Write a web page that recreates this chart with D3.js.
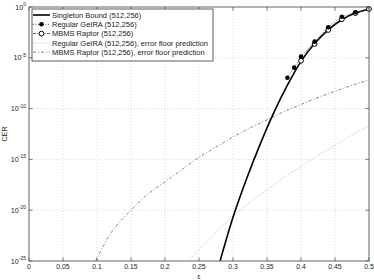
<!DOCTYPE html>
<html><head><meta charset="utf-8">
<script src="https://cdn.jsdelivr.net/npm/d3@7"></script>
<style>body{margin:0;background:#fff}svg{display:block}</style>
</head><body><svg id="c" width="374" height="280"></svg>
<script>
const xTicks = [0,0.05,0.1,0.15,0.2,0.25,0.3,0.35,0.4,0.45,0.5];
const xTickLabels = ["0","0.05","0.1","0.15","0.2","0.25","0.3","0.35","0.4","0.45","0.5"];
const yTicks = [1e0,1e-5,1e-10,1e-15,1e-20,1e-25];
const yTickExps = ["0","-5","-10","-15","-20","-25"];

const singletonEps = [0.281,0.30,0.32,0.34,0.36,0.38,0.40,0.42,0.44,0.46,0.48,0.50];
const singletonCER = [1e-25,2e-21,1.26e-17,3.2e-14,4e-11,2e-8,4.5e-6,2.5e-4,5.6e-3,5.6e-2,0.25,0.6];

const geiraEps = [0.38,0.39,0.40,0.42,0.44,0.46,0.48];
const geiraCER = [1.1e-7,1.07e-6,1.3e-5,3.9e-4,1e-2,0.11,0.3];

const raptorEps = [0.40,0.42,0.44,0.46,0.48,0.50];
const raptorCER = [5.1e-6,2.3e-4,5.5e-3,6.2e-2,0.25,0.63];

const geiraFloorEps = [0.234,0.25,0.275,0.30,0.325,0.35,0.375,0.40,0.425,0.45,0.475,0.50];
const geiraFloorCER = [1e-25,1.26e-24,6.3e-23,2.5e-21,6.3e-20,1e-18,1.6e-17,2e-16,2.5e-15,2.5e-14,2.5e-13,2e-12];

const raptorFloorEps = [0.098,0.12,0.15,0.175,0.20,0.225,0.25,0.275,0.30,0.325,0.35,0.375,0.40,0.425,0.45,0.475,0.50];
const raptorFloorCER = [1e-25,5e-23,1e-20,4e-19,6.3e-18,1e-16,1.6e-15,1.6e-14,1.6e-13,1.26e-12,7.9e-12,5e-11,2.5e-10,1.26e-9,5e-9,2e-8,6.3e-8];

const legendLabels = ["Singleton Bound (512,256)","Regular GeIRA (512,256)","MBMS Raptor (512,256)","Regular GeIRA (512,256), error floor prediction","MBMS Raptor (512,256), error floor prediction"];

const L=29,R=369,T=7,B=261;
const svg=d3.select("#c");
const font="Liberation Sans, Arial, sans-serif";
const x=d3.scaleLinear().domain([0,0.5]).range([L,R]);
const y=d3.scaleLog().domain([1e-25,1]).range([B,T]);

svg.append("defs").append("clipPath").attr("id","clip").append("rect").attr("x",L).attr("y",T).attr("width",R-L).attr("height",B-T);

// grid
const g=svg.append("g");
g.selectAll(".gx").data(xTicks.slice(1,-1)).enter().append("line")
 .attr("x1",d=>x(d)).attr("x2",d=>x(d)).attr("y1",T).attr("y2",B)
 .attr("stroke","#c8c8c8").attr("stroke-width",0.7).attr("stroke-dasharray","1,2");
g.selectAll(".gy").data(yTicks.slice(1,-1)).enter().append("line")
 .attr("y1",d=>y(d)).attr("y2",d=>y(d)).attr("x1",L).attr("x2",R)
 .attr("stroke","#c8c8c8").attr("stroke-width",0.7).attr("stroke-dasharray","1,2");

const plot=svg.append("g").attr("clip-path","url(#clip)");
const line=d3.line().x(d=>x(d[0])).y(d=>y(d[1]));
const zip=(a,b)=>a.map((v,i)=>[v,b[i]]);

plot.append("path").datum(zip(geiraFloorEps,geiraFloorCER)).attr("d",line.curve(d3.curveMonotoneX))
 .attr("fill","none").attr("stroke","#aaa").attr("stroke-width",0.8).attr("stroke-dasharray","1,1.6");
plot.append("path").datum(zip(raptorFloorEps,raptorFloorCER)).attr("d",line.curve(d3.curveMonotoneX))
 .attr("fill","none").attr("stroke","#666").attr("stroke-width",0.8).attr("stroke-dasharray","3,2,1,2");
plot.append("path").datum(zip(singletonEps,singletonCER)).attr("d",line.curve(d3.curveMonotoneX))
 .attr("fill","none").attr("stroke","#000").attr("stroke-width",1.6);
plot.append("path").datum(zip(geiraEps,geiraCER)).attr("d",line.curve(d3.curveLinear))
 .attr("fill","none").attr("stroke","#333").attr("stroke-width",0.8).attr("stroke-dasharray","1,1.5");
plot.append("path").datum(zip(raptorEps,raptorCER)).attr("d",line.curve(d3.curveLinear))
 .attr("fill","none").attr("stroke","#333").attr("stroke-width",0.8).attr("stroke-dasharray","3,1.5,1,1.5");

svg.append("g").selectAll("circle").data(zip(raptorEps,raptorCER)).enter().append("circle")
 .attr("cx",d=>x(d[0])).attr("cy",d=>y(d[1])).attr("r",2.4).attr("fill","#fff").attr("stroke","#000").attr("stroke-width",1);
svg.append("g").selectAll("circle").data(zip(geiraEps,geiraCER)).enter().append("circle")
 .attr("cx",d=>x(d[0])).attr("cy",d=>y(d[1])).attr("r",2.3).attr("fill","#000");

// frame
const ax="#555";
svg.append("rect").attr("x",L).attr("y",T).attr("width",R-L).attr("height",B-T).attr("fill","none").attr("stroke",ax).attr("stroke-width",0.9);
// ticks
const tk=svg.append("g").attr("stroke",ax).attr("stroke-width",0.8);
xTicks.forEach(t=>{tk.append("line").attr("x1",x(t)).attr("x2",x(t)).attr("y1",B).attr("y2",B-3.5);
 tk.append("line").attr("x1",x(t)).attr("x2",x(t)).attr("y1",T).attr("y2",T+3.5);});
yTicks.forEach(t=>{tk.append("line").attr("y1",y(t)).attr("y2",y(t)).attr("x1",L).attr("x2",L+3.5);
 tk.append("line").attr("y1",y(t)).attr("y2",y(t)).attr("x1",R).attr("x2",R-3.5);});

// x labels
svg.append("g").selectAll("text").data(xTicks).enter().append("text")
 .attr("x",d=>x(d)).attr("y",B+8.3).attr("text-anchor","middle")
 .attr("font-family",font).attr("font-size",6.9).attr("fill","#222").text((d,i)=>xTickLabels[i]);
// y labels
yTicks.forEach((t,i)=>{
 const tx=svg.append("text").attr("x",L-3).attr("y",y(t)+2.5).attr("text-anchor","end")
  .attr("font-family",font).attr("font-size",7.2).attr("fill","#222");
 tx.append("tspan").text("10");
 tx.append("tspan").attr("dy",-3.5).attr("font-size",5).text(yTickExps[i]);
});
svg.append("text").attr("transform","translate(7,134) rotate(-90)").attr("text-anchor","middle")
 .attr("font-family",font).attr("font-size",7.2).attr("fill","#222").text("CER");
svg.append("text").attr("x",199).attr("y",278.5).attr("text-anchor","middle")
 .attr("font-family",font).attr("font-size",6.8).attr("fill","#222").text("ε");

// legend
const lg=svg.append("g");
lg.append("rect").attr("x",32).attr("y",9).attr("width",181).attr("height",52).attr("fill","#fff").attr("stroke","#333").attr("stroke-width",0.8);
const ly=[15,24.3,33.6,42.9,52.2];
const styles=[
 {s:"#000",w:1.6,d:null},
 {s:"#333",w:0.8,d:"1,1.5"},
 {s:"#333",w:0.8,d:"3,1.5,1,1.5"},
 {s:"#aaa",w:0.8,d:"1,1.6"},
 {s:"#666",w:0.8,d:"3,2,1,2"}];
legendLabels.forEach((lab,i)=>{
 const st=styles[i];
 const ln=lg.append("line").attr("x1",33).attr("x2",50).attr("y1",ly[i]).attr("y2",ly[i]).attr("stroke",st.s).attr("stroke-width",st.w);
 if(st.d) ln.attr("stroke-dasharray",st.d);
 if(i===1) lg.append("circle").attr("cx",41.5).attr("cy",ly[i]).attr("r",2.3).attr("fill","#000");
 if(i===2) lg.append("circle").attr("cx",41.5).attr("cy",ly[i]).attr("r",2.4).attr("fill","#fff").attr("stroke","#000");
 lg.append("text").attr("x",52).attr("y",ly[i]+2.6).attr("font-family",font).attr("font-size",7.5).attr("fill","#222").text(lab);
});
</script></body></html>
